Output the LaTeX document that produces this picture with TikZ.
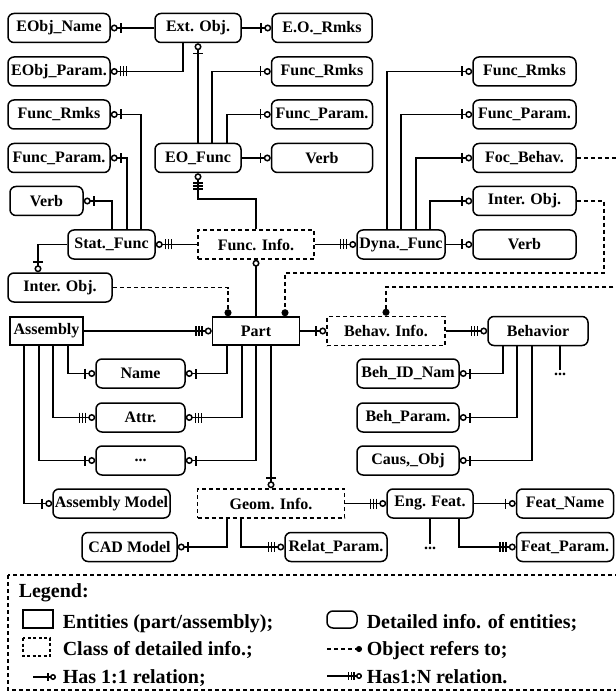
\documentclass[tikz,border=0pt]{standalone}
\usepackage{fontspec}
\setmainfont{Liberation Serif}
\usetikzlibrary{arrows.meta}
\begin{document}
\begin{tikzpicture}[x=1pt,y=-1pt,
  line width=1.5pt,
  nfont/.style={font=\fontsize{16}{17}\selectfont\bfseries},
  ent/.style={draw,rounded corners=6pt,minimum height=29pt,inner sep=0pt,nfont},
  rectent/.style={draw,minimum height=28pt,inner sep=0pt,nfont},
  cls/.style={draw,dash pattern=on 4pt off 3pt,minimum height=29pt,inner sep=0pt,nfont},
  toOne/.style={-{Bar[width=10pt,sep=2.5pt]Circle[open,length=7pt,sep=0pt]}},
  toMany/.style={-{Bar[width=10pt,sep=1.5pt]Bar[width=10pt,sep=1.5pt]Bar[width=10pt,sep=2pt]Circle[open,length=7pt,sep=0pt]}},
  refers/.style={dash pattern=on 4pt off 3pt,-{Circle[length=7pt,sep=0pt]}},
  lfont/.style={font=\fontsize{20}{22}\selectfont\bfseries,inner sep=0pt}
]
\useasboundingbox (0,0) rectangle (615,692);

% top area
\node[ent,minimum width=102pt] (eobjname) at (59,28) {EObj\_Name};
\node[ent,minimum width=86pt] (extobj) at (198,28) {Ext. Obj.};
\node[ent,minimum width=100pt] (eormks) at (322,28) {E.O.\_Rmks};
\node[ent,minimum width=102pt] (eobjparam) at (59,71.5) {EObj\_Param.};
\node[ent,minimum width=102pt] (lfrmks) at (59,114.5) {Func\_Rmks};
\node[ent,minimum width=102pt] (lfparam) at (59,158) {Func\_Param.};
\node[ent,minimum width=86pt] (eofunc) at (198,158) {EO\_Func};
\node[ent,minimum width=101pt] (mfrmks) at (322,71.5) {Func\_Rmks};
\node[ent,minimum width=101pt] (mfparam) at (322,114.5) {Func\_Param.};
\node[ent,minimum width=101pt] (mverb) at (322,158) {Verb};
\node[ent,minimum width=103pt] (rfrmks) at (524.5,71.5) {Func\_Rmks};
\node[ent,minimum width=103pt] (rfparam) at (524.5,114.5) {Func\_Param.};
\node[ent,minimum width=103pt] (focbehav) at (524.5,158) {Foc\_Behav.};
\node[ent,minimum width=103pt] (rinter) at (524.5,201) {Inter. Obj.};
\node[ent,minimum width=103pt] (rverb) at (524.5,244.5) {Verb};
\node[ent,minimum width=73pt] (lverb) at (46.5,201) {Verb};
\node[ent,minimum width=87pt] (statfunc) at (111.5,244.5) {Stat.\_Func};
\node[cls,minimum width=116pt] (funcinfo) at (256,244.5) {Func. Info.};
\node[ent,minimum width=88pt] (dynafunc) at (401,244.5) {Dyna.\_Func};
\node[ent,minimum width=104pt] (linter) at (60,287.5) {Inter. Obj.};

% middle
\node[rectent,minimum width=73pt] (assembly) at (46.5,331) {Assembly};
\node[rectent,minimum width=87pt] (part) at (256,331) {Part};
\node[cls,minimum width=118pt] (behavinfo) at (386,331) {Behav. Info.};
\node[ent,minimum width=100pt] (behavior) at (538,331) {Behavior};
\node[ent,minimum width=89pt] (name) at (140.5,373.5) {Name};
\node[ent,minimum width=89pt] (attr) at (140.5,417.5) {Attr.};
\node[ent,minimum width=89pt] (dots) at (140.5,460.5) {...};
\node[ent,minimum width=102pt] (behid) at (408,373.5) {Beh\_ID\_Nam};
\node[ent,minimum width=102pt] (behparam) at (408,417.5) {Beh\_Param.};
\node[ent,minimum width=102pt] (caus) at (408,460.5) {Caus,\_Obj};
\node[nfont,inner sep=0pt] (bdots) at (560,374) {...};

% bottom
\node[ent,minimum width=117pt] (asmmodel) at (111.5,503.5) {Assembly Model};
\node[cls,minimum width=147pt] (geominfo) at (271,503.5) {Geom. Info.};
\node[ent,minimum width=86pt] (engfeat) at (430,503.5) {Eng. Feat.};
\node[ent,minimum width=97pt] (featname) at (565,503.5) {Feat\_Name};
\node[ent,minimum width=95pt] (cad) at (129.5,547) {CAD Model};
\node[ent,minimum width=102pt] (relat) at (336,547) {Relat\_Param.};
\node[ent,minimum width=97pt] (featparam) at (565,547) {Feat\_Param.};
\node[nfont,inner sep=0pt] (edots) at (430,548) {...};

% connectors top
\draw[toOne] (extobj.west) -- (eobjname.east);
\draw[toOne] (extobj.east) -- (eormks.west);
\draw[toMany] ([xshift=-15pt]extobj.south) |- (eobjparam.east);
\draw[toOne] (eofunc.north) -- (extobj.south);
\draw[toOne] ([xshift=14pt]eofunc.north) |- (mfrmks.west);
\draw[toOne] ([xshift=29pt]eofunc.north) |- (mfparam.west);
\draw[toOne] (eofunc.east) -- (mverb.west);
\draw[toMany] (funcinfo.north) -- ++(0,-30) -| (eofunc.south);
\draw[toMany] (funcinfo.west) -- (statfunc.east);
\draw[toMany] (funcinfo.east) -- (dynafunc.west);
\draw[toOne] ([xshift=29.5pt]statfunc.north) |- (lfrmks.east);
\draw[toOne] ([xshift=15.5pt]statfunc.north) |- (lfparam.east);
\draw[toOne] ([xshift=0.5pt]statfunc.north) |- (lverb.east);
\draw[toOne] (statfunc.west) -| ([xshift=-22pt]linter.north);
\draw[toOne] ([xshift=-14pt]dynafunc.north) |- (rfrmks.west);
\draw[toOne] (dynafunc.north) |- (rfparam.west);
\draw[toOne] ([xshift=15pt]dynafunc.north) |- (focbehav.west);
\draw[toOne] ([xshift=29pt]dynafunc.north) |- (rinter.west);
\draw[toOne] (dynafunc.east) -- (rverb.west);

% refers-to links
\coordinate (c1) at (604,273);
\coordinate (c2) at (625,287);
\draw[refers] (linter.east) -| ([xshift=-28pt]part.north);
\draw[refers] (rinter.east) -| (c1) -| ([xshift=29pt]part.north);
\draw[refers] (focbehav.east) -| (c2) -| (behavinfo.north);

% middle connectors
\draw[-{Circle[open,length=7pt,sep=0pt]}] (part.north) -- (funcinfo.south);
\draw[toMany] (assembly.east) -- (part.west);
\draw[toOne] (part.east) -- (behavinfo.west);
\draw[toMany] (behavinfo.east) -- (behavior.west);
\draw[toOne] ([xshift=21.5pt]assembly.south) |- (name.west);
\draw[toMany] ([xshift=6.5pt]assembly.south) |- (attr.west);
\draw[toOne] ([xshift=-7.5pt]assembly.south) |- (dots.west);
\draw[toOne] ([xshift=-22.5pt]assembly.south) |- (asmmodel.west);
\draw[toOne] ([xshift=-29pt]part.south) |- (name.east);
\draw[toMany] ([xshift=-14pt]part.south) |- (attr.east);
\draw[toOne] (part.south) |- (dots.east);
\draw[toOne] (geominfo.north |- part.south) -- (geominfo.north);
\draw[toOne] ([xshift=-35pt]behavior.south) |- (behid.east);
\draw[toOne] ([xshift=-21pt]behavior.south) |- (behparam.east);
\draw[toOne] ([xshift=-6pt]behavior.south) |- (caus.east);
\draw (bdots.north |- behavior.south) -- ([yshift=2pt]bdots.north);

% bottom connectors
\draw[toMany] (geominfo.east) -- (engfeat.west);
\draw[toOne] (engfeat.east) -- (featname.west);
\draw[toOne] ([xshift=-44pt]geominfo.south) |- (cad.east);
\draw[toMany] ([xshift=-30pt]geominfo.south) |- (relat.west);
\draw[toMany] ([xshift=29pt]engfeat.south) |- (featparam.west);
\draw (engfeat.south) -- ([yshift=2pt]edots.north);

% legend
\draw[dash pattern=on 4pt off 3pt] (8,575) rectangle (622,690);
\node[lfont,anchor=base west] (lgtitle) at (18,597) {Legend:};
\draw (23,610) rectangle (53,628);
\node[lfont,anchor=base west] (lg1) at (62,628) {Entities (part/assembly);};
\draw[dash pattern=on 3pt off 2.5pt] (23,638) rectangle (50,656);
\node[lfont,anchor=base west] (lg2) at (62,655) {Class of detailed info.;};
\coordinate (la1) at (33,677);
\coordinate (la2) at (56,677);
\draw[-{Bar[width=8pt,sep=1.5pt]Circle[open,length=6pt,sep=0pt]}] (la1) -- (la2);
\node[lfont,anchor=base west] (lg3) at (62,683) {Has 1:1 relation;};
\draw[rounded corners=6pt] (327,611) rectangle (357,628);
\node[lfont,anchor=base west] (lg4) at (366,628) {Detailed info. of entities;};
\coordinate (lb1) at (327,649);
\coordinate (lb2) at (362,649);
\draw[dash pattern=on 4pt off 3pt,-{Circle[length=6pt,sep=0pt]}] (lb1) -- (lb2);
\node[lfont,anchor=base west] (lg5) at (366,655) {Object refers to;};
\coordinate (lc1) at (327,676);
\coordinate (lc2) at (362,676);
\draw[-{Bar[width=8pt,sep=1.2pt]Bar[width=8pt,sep=1.2pt]Bar[width=8pt,sep=1.2pt]Circle[open,length=6pt,sep=0pt]}] (lc1) -- (lc2);
\node[lfont,anchor=base west] (lg6) at (366,683) {Has1:N relation.};
\end{tikzpicture}
\end{document}
